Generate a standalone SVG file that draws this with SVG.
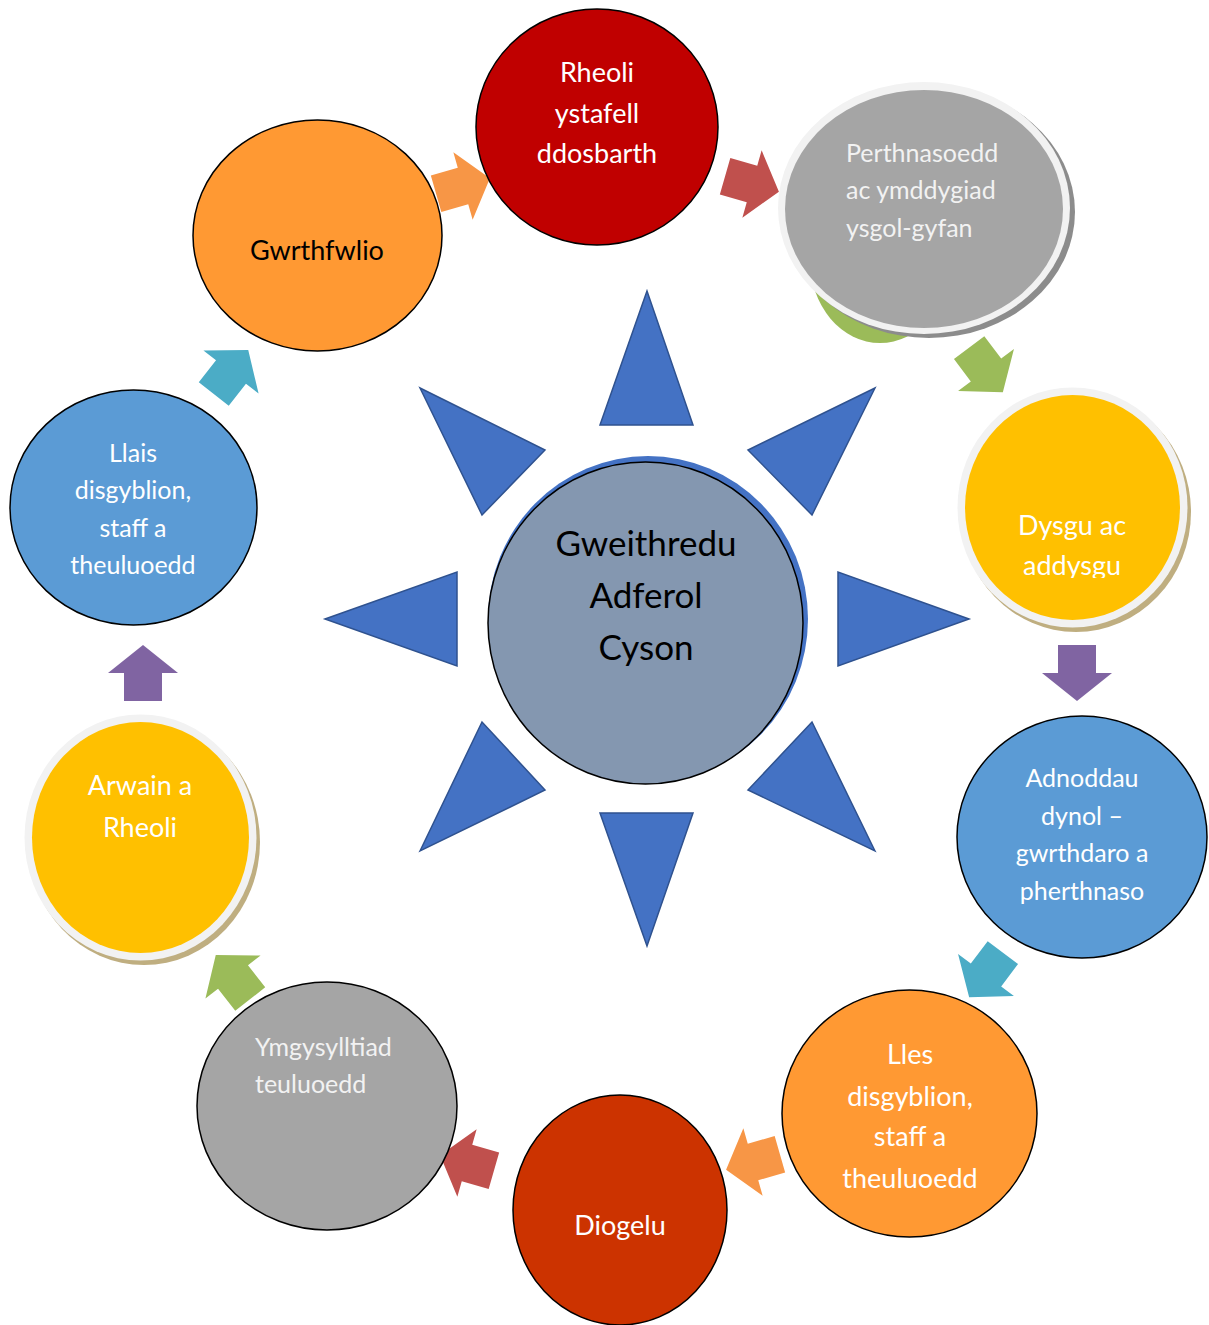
<svg xmlns="http://www.w3.org/2000/svg" width="1209" height="1325" viewBox="0 0 1209 1325">
<style>
.node{stroke:#000;stroke-width:1.5}
.tri{fill:#4472C4;stroke:#2F528F;stroke-width:1.5}
.t{font-family:Lato,"Open Sans",sans-serif;fill:#fff;text-anchor:middle}
.s25{font-size:25px}
.s27{font-size:27px}
.dark{fill:#000}
.lt{fill:#F2F2F2;text-anchor:start}
</style>
<defs>
<path id="arr" d="M -28,-19 H 0 V -35 L 28,0 L 0,35 V 19 H -28 Z"/>
<clipPath id="dysguClip"><rect x="950" y="380" width="250" height="198"/></clipPath>
</defs>
<rect width="1209" height="1325" fill="#fff"/>

<g id="connectors">
<use href="#arr" fill="#F79646" transform="translate(463,186) rotate(-16)"/>
<use href="#arr" fill="#C0504D" transform="translate(752,184) rotate(16)"/>
<use href="#arr" fill="#9BBB59" transform="translate(986,370) rotate(53)"/>
<use href="#arr" fill="#8064A2" transform="translate(1077,673) rotate(90)"/>
<use href="#arr" fill="#4BACC6" transform="translate(986,975) rotate(127)"/>
<use href="#arr" fill="#F79646" transform="translate(753,1162) rotate(164)"/>
<use href="#arr" fill="#C0504D" transform="translate(467,1163) rotate(196)"/>
<use href="#arr" fill="#9BBB59" transform="translate(233,977) rotate(232)"/>
<use href="#arr" fill="#8064A2" transform="translate(143,673) rotate(-90)"/>
<use href="#arr" fill="#4BACC6" transform="translate(231,372) rotate(-52)"/>
</g>

<g id="rays">
<polygon class="tri" points="647,291 600,425 693,425"/>
<polygon class="tri" points="600,813 693,813 647,946"/>
<polygon class="tri" points="325,619 457,572 457,666"/>
<polygon class="tri" points="969,619 838,572 838,666"/>
<polygon class="tri" points="420,388 545,450 482,515"/>
<polygon class="tri" points="875,388 748,450 812,515"/>
<polygon class="tri" points="420,851 482,722 545,790"/>
<polygon class="tri" points="875,851 812,722 748,790"/>
</g>

<g id="centre">
<ellipse cx="648" cy="619" rx="160" ry="163" fill="#4472C4"/>
<ellipse class="node" cx="645.5" cy="623" rx="157.5" ry="161" fill="#8497B0" stroke-width="2"/>
<text class="t dark" font-size="35"><tspan x="646" y="556">Gweithredu</tspan><tspan x="646" y="608">Adferol</tspan><tspan x="646" y="660">Cyson</tspan></text>
</g>

<g id="rheoli">
<ellipse class="node" cx="597" cy="127" rx="121" ry="118" fill="#C00000"/>
<text class="t s27"><tspan x="597" y="82">Rheoli</tspan><tspan x="597" y="123">ystafell</tspan><tspan x="597" y="163">ddosbarth</tspan></text>
</g>

<g id="perthnasoedd">
<ellipse cx="880" cy="260" rx="70" ry="83" fill="#9BBB59"/>
<ellipse cx="929" cy="212" rx="146" ry="126" fill="#8C8C8C"/>
<ellipse cx="924" cy="208" rx="146" ry="126" fill="#F2F2F2"/>
<ellipse cx="924" cy="209" rx="139" ry="119" fill="#A5A5A5"/>
<text class="t s25 lt"><tspan x="846" y="162">Perthnasoedd</tspan><tspan x="846" y="199">ac ymddygiad</tspan><tspan x="846" y="237">ysgol-gyfan</tspan></text>
</g>

<g id="dysgu">
<ellipse cx="1076" cy="512" rx="115" ry="120" fill="#BFAE80"/>
<ellipse cx="1072.5" cy="507.5" rx="115" ry="120" fill="#F2F2F2"/>
<ellipse cx="1072.5" cy="507.5" rx="107.5" ry="112.5" fill="#FFC000"/>
<text class="t s27" clip-path="url(#dysguClip)"><tspan x="1072" y="535">Dysgu ac</tspan><tspan x="1072" y="575">addysgu</tspan></text>
</g>

<g id="adnoddau">
<ellipse class="node" cx="1082" cy="837" rx="125" ry="121" fill="#5B9BD5"/>
<text class="t s25"><tspan x="1082" y="787">Adnoddau</tspan><tspan x="1082" y="825">dynol –</tspan><tspan x="1082" y="862">gwrthdaro a</tspan><tspan x="1082" y="900">pherthnaso</tspan></text>
</g>

<g id="lles">
<ellipse class="node" cx="909.5" cy="1113.5" rx="127.5" ry="123.5" fill="#FF9933"/>
<text class="t s27"><tspan x="910" y="1064">Lles</tspan><tspan x="910" y="1106">disgyblion,</tspan><tspan x="910" y="1146">staff a</tspan><tspan x="910" y="1188">theuluoedd</tspan></text>
</g>

<g id="diogelu">
<ellipse class="node" cx="620" cy="1210" rx="107" ry="115" fill="#CC3300"/>
<text class="t s27" x="620" y="1235">Diogelu</text>
</g>

<g id="ymgysylltiad">
<ellipse class="node" cx="327" cy="1106" rx="130" ry="124" fill="#A5A5A5"/>
<text class="t s25 lt"><tspan x="255" y="1056">Ymgysylltiad</tspan><tspan x="255" y="1093">teuluoedd</tspan></text>
</g>

<g id="arwain">
<ellipse cx="144" cy="842" rx="116" ry="123" fill="#BFAE80"/>
<ellipse cx="140.5" cy="837.5" rx="116" ry="123" fill="#F2F2F2"/>
<ellipse cx="140.5" cy="837.5" rx="108.5" ry="115.5" fill="#FFC000"/>
<text class="t s27"><tspan x="140" y="795">Arwain a</tspan><tspan x="140" y="837">Rheoli</tspan></text>
</g>

<g id="llais">
<ellipse class="node" cx="133.5" cy="507.5" rx="123.5" ry="117.5" fill="#5B9BD5"/>
<text class="t s25"><tspan x="133" y="462">Llais</tspan><tspan x="133" y="499">disgyblion,</tspan><tspan x="133" y="537">staff a</tspan><tspan x="133" y="574">theuluoedd</tspan></text>
</g>

<g id="gwrthfwlio">
<ellipse class="node" cx="317.5" cy="235.5" rx="124.5" ry="115.5" fill="#FF9933"/>
<text class="t s27 dark" x="317" y="260">Gwrthfwlio</text>
</g>
</svg>
